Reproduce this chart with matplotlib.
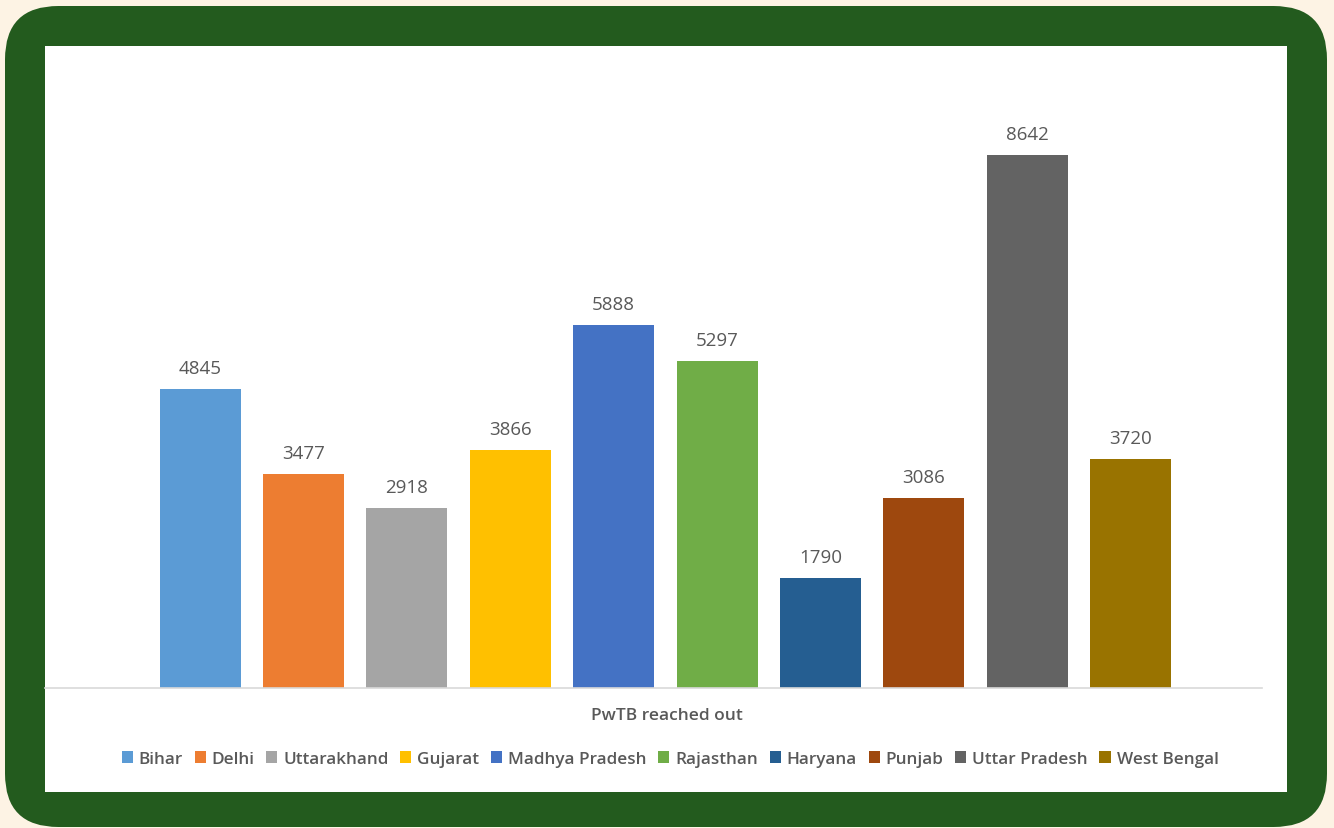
import matplotlib
matplotlib.use("Agg")
import matplotlib.pyplot as plt
from matplotlib.patches import FancyBboxPatch, Rectangle, Patch

states = ["Bihar", "Delhi", "Uttarakhand", "Gujarat", "Madhya Pradesh",
          "Rajasthan", "Haryana", "Punjab", "Uttar Pradesh", "West Bengal"]
values = [4845, 3477, 2918, 3866, 5888, 5297, 1790, 3086, 8642, 3720]
colors = ["#5b9bd5", "#ed7d31", "#a5a5a5", "#ffc000", "#4472c4",
          "#70ad47", "#255e91", "#9e480e", "#636363", "#997300"]
xlabel = "PwTB reached out"

W, H = 1334, 829
fig = plt.figure(figsize=(W / 100, H / 100), dpi=100)
fig.patch.set_facecolor("#fdf3e4")

# green rounded frame
frame = FancyBboxPatch((5 / W, 1 - 828 / H), (1327 - 5) / W, (828 - 7) / H,
                       boxstyle="round,pad=0,rounding_size=0.04",
                       transform=fig.transFigure, facecolor="#235b1e",
                       edgecolor="none", mutation_aspect=W / H, zorder=-3)
fig.patches.append(frame)
panel = Rectangle((45 / W, 1 - 793 / H), (1287 - 45) / W, (793 - 47) / H,
                  transform=fig.transFigure, facecolor="white", edgecolor="none",
                  zorder=-2)
fig.patches.append(panel)

font = "Open Sans"
txt = "#595959"

# axes: pixel left 45, right 1262, bottom 689, top 100
ax = fig.add_axes([45 / W, 1 - 689 / H, (1262 - 45) / W, (689 - 100) / H])
ax.set_zorder(2)
ax.set_facecolor("none")
spacing = 103.4
x = list(range(len(states)))
ax.bar(x, values, width=81 / spacing, color=colors, zorder=2)
ax.set_xlim((45 - 200) / spacing, (1262 - 200) / spacing)
ax.set_ylim(0, (689 - 100) / ((689 - 156) / 8642))
for xi, v in zip(x, values):
    ax.annotate(f"{v}", (xi, v), xytext=(0, 8.5), textcoords="offset points",
                ha="center", va="bottom", fontsize=13.5, color=txt, family=font)
for s in ["top", "right", "left"]:
    ax.spines[s].set_visible(False)
ax.spines["bottom"].set_color("#d9d9d9")
ax.spines["bottom"].set_linewidth(1.2)
ax.set_xticks([])
ax.set_yticks([])

fig.text(667 / W, 1 - 716 / H, xlabel, ha="center", va="center",
         fontsize=12.5, color=txt, family=font, weight="semibold", zorder=3)

handles = [Patch(facecolor=c, edgecolor="none") for c in colors]
leg = fig.legend(handles, states, loc="center", bbox_to_anchor=(670 / W, 1 - 760 / H),
                 ncol=10, frameon=False, handlelength=0.65, handleheight=0.65,
                 handletextpad=0.35, columnspacing=0.68,
                 prop={"family": font, "size": 12.3, "weight": "semibold"})
leg.set_zorder(3)
for t in leg.get_texts():
    t.set_color(txt)

fig.savefig("out.png", dpi=100, facecolor=fig.get_facecolor())
